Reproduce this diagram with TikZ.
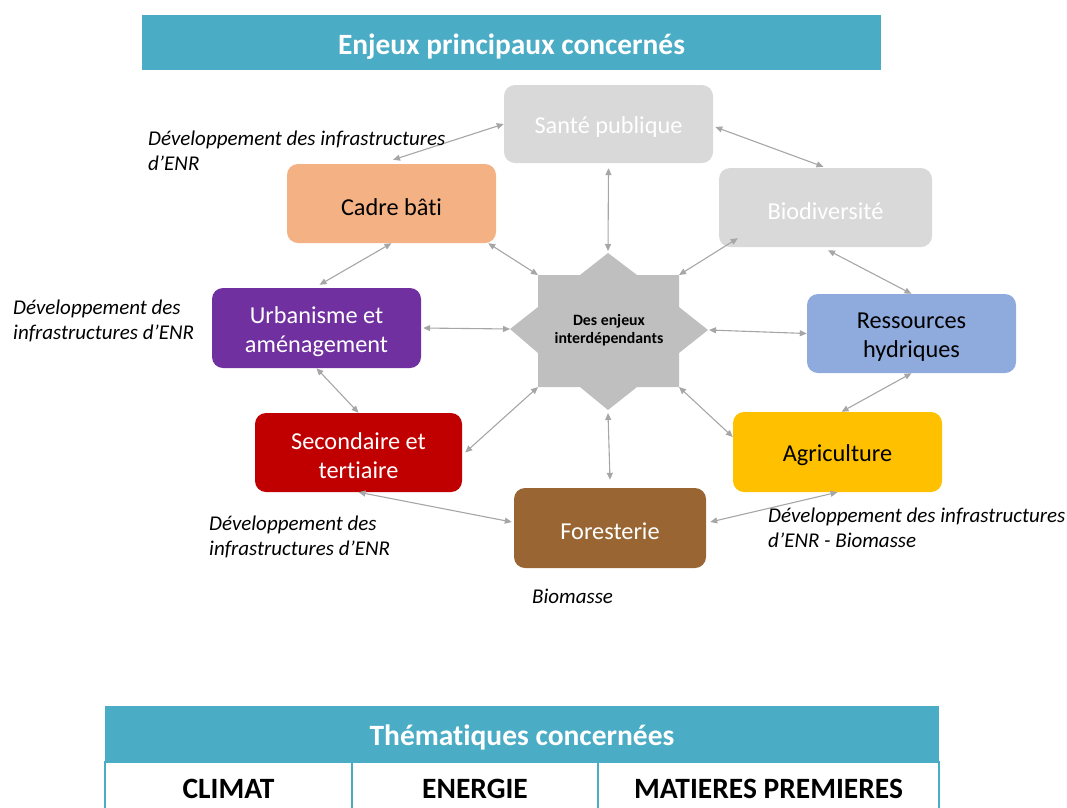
\documentclass[tikz,border=0pt]{standalone}
\usepackage{fontspec}
\setmainfont{Carlito}[Ligatures=NoCommon]
\usetikzlibrary{arrows.meta,calc}

\definecolor{hdrteal}{HTML}{4BACC6}
\definecolor{arrowgray}{HTML}{A6A6A6}
\definecolor{lightbox}{HTML}{D9D9D9}
\definecolor{starfill}{HTML}{BFBFBF}
\definecolor{orangebox}{HTML}{F4B183}
\definecolor{purplebox}{HTML}{7030A0}
\definecolor{redbox}{HTML}{C00000}
\definecolor{bluebox}{HTML}{8FAADC}
\definecolor{yellowbox}{HTML}{FFC000}
\definecolor{brownbox}{HTML}{996633}

% fixed line box so box labels sit at the same height whatever their letters
\newcommand{\bstrut}{\rule[-0.5pt]{0pt}{24pt}}

\begin{document}
\begin{tikzpicture}[x=1pt,y=-1pt,
  box/.style={rounded corners=11pt, align=center, inner sep=0pt,
    font=\fontsize{24.3}{29}\selectfont},
  conn/.style={draw=arrowgray, line width=1.1pt,
    {Triangle[length=7pt,width=6pt]}-{Triangle[length=7pt,width=6pt]}},
  note/.style={font=\itshape\fontsize{21}{25}\selectfont, align=left,
    inner sep=0pt, anchor=base west},
  banner/.style={fill=hdrteal, text=white, inner sep=0pt,
    text height=23pt, text depth=0pt},
  cell/.style={draw=hdrteal, line width=2.5pt, fill=white, inner sep=0pt,
    minimum height=50pt, text height=22.6pt, text depth=0pt,
    font=\bfseries\fontsize{29.5}{34}\selectfont}
]
\useasboundingbox (0,0) rectangle (1067,807);
\clip (0,0) rectangle (1067,807);

% header banner
\node[banner, minimum width=739pt, minimum height=55pt,
  font=\bfseries\fontsize{29.4}{35}\selectfont] (title) at (511.5,42.5)
  {Enjeux principaux concernés};

% topic boxes
\node[box, fill=lightbox, text=white, minimum width=209pt, minimum height=78pt]
  (sante) at (608.5,124) {Santé publique\bstrut};
\node[box, fill=lightbox, text=white, minimum width=213pt, minimum height=79pt]
  (biodiv) at (825.5,207.5) {Biodiversité\bstrut};
\node[box, fill=orangebox, minimum width=209pt, minimum height=79pt]
  (cadre) at (391.5,203.5) {Cadre bâti\bstrut};
\node[box, fill=purplebox, text=white, minimum width=209pt, minimum height=80pt]
  (urba) at (316.5,328) {Urbanisme et\bstrut\\aménagement\bstrut};
\node[box, fill=redbox, text=white, minimum width=207pt, minimum height=79pt]
  (second) at (358.5,452.5) {Secondaire et\bstrut\\tertiaire\bstrut};
\node[box, fill=bluebox, minimum width=209pt, minimum height=79pt]
  (ress) at (911.5,333.5) {Ressources\bstrut\\hydriques\bstrut};
\node[box, fill=yellowbox, minimum width=209pt, minimum height=80pt]
  (agri) at (837.5,452) {Agriculture\bstrut};
\node[box, fill=brownbox, text=white, minimum width=192pt, minimum height=80pt]
  (forest) at (610,528) {Foresterie\bstrut};

% eight-pointed star in the middle
\coordinate (st-n)  at (608,253);
\coordinate (st-ne) at (679,275);
\coordinate (st-e)  at (708,330);
\coordinate (st-se) at (679,387);
\coordinate (st-s)  at (608,410);
\coordinate (st-sw) at (538,387);
\coordinate (st-w)  at (510,329);
\coordinate (st-nw) at (538,275);
\fill[starfill] (st-n) -- (637,275) -- (st-ne) -- (679,307) -- (st-e)
  -- (679,353) -- (st-se) -- (637,387) -- (st-s) -- (580,387) -- (st-sw)
  -- (538,353) -- (st-w) -- (538,307) -- (st-nw) -- (580,275) -- cycle;
\node[align=center, inner sep=0pt, anchor=base,
  font=\bfseries\fontsize{15.8}{18.5}\selectfont]
  (hub) at (609,343.5) {Des enjeux\\interdépendants};

% connectors
\draw[conn] ([yshift=-5pt]sante.south) -- ([yshift=2pt]st-n);
\draw[conn] ([xshift=2pt,yshift=-3pt]sante.east) -- ([xshift=-2pt,yshift=1pt]biodiv.north);
\draw[conn] ([xshift=1.5pt,yshift=4pt]cadre.north) -- (sante.west);
\draw[conn] ([xshift=-8pt]cadre.south east) -- (st-nw);
\draw[conn] ([xshift=19pt,yshift=9pt]biodiv.south west) -- (st-ne);
\draw[conn] ([xshift=2.5pt,yshift=-3pt]biodiv.south) -- (ress.north);
\draw[conn] ([xshift=1pt]st-e) -- (ress.west);
\draw[conn] (ress.south) -- ([xshift=4pt]agri.north);
\draw[conn] (st-se) -- ([yshift=15pt]agri.west);
\draw[conn] (agri.south) -- ([xshift=4pt,yshift=6pt]forest.east);
\draw[conn] ([yshift=-3pt]st-s) -- ([yshift=8pt]forest.north);
\draw[conn] (second.south) -- ([xshift=-2pt,yshift=6pt]forest.west);
\draw[conn] (st-sw) -- ([xshift=3pt]second.east);
\draw[conn] (st-w) -- ([xshift=2pt]urba.east);
\draw[conn] (urba.south) -- (second.north);
\draw[conn] (cadre.south) -- ([xshift=3pt,yshift=3pt]urba.north);

% notes (placed by the baseline of their last line)
\node[note] (n1) at (148,170) {Développement des infrastructures\\d’ENR};
\node[note] (n2) at (13,339) {Développement des\\infrastructures d’ENR};
\node[note] (n3) at (209,555) {Développement des\\infrastructures d’ENR};
\node[note] (n4) at (768,547) {Développement des infrastructures\\d’ENR - Biomasse};
\node[note] (n5) at (532,603) {Biomasse};

% themes table
\node[banner, minimum width=834pt, minimum height=56pt, text height=22pt,
  font=\bfseries\fontsize{29.5}{34}\selectfont] (thead) at (522,734)
  {Thématiques concernées};
\node[cell, minimum width=247pt] (climat) at (228.5,787) {CLIMAT};
\node[cell, minimum width=246pt] (energie) at (475,787) {ENERGIE};
\node[cell, minimum width=341pt] (matieres) at (768.5,787) {MATIERES PREMIERES};
\end{tikzpicture}
\end{document}
